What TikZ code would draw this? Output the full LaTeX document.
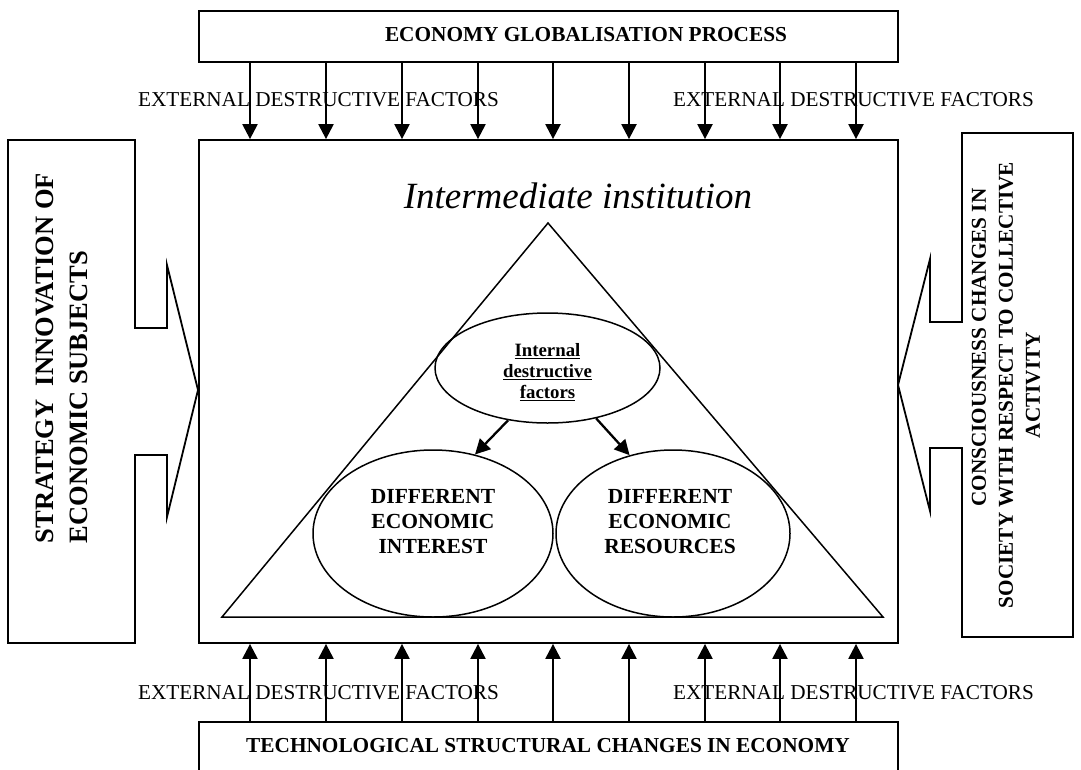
\documentclass[tikz,border=0pt]{standalone}
\usepackage{fontspec}
\setmainfont{Liberation Serif}
\usetikzlibrary{arrows.meta,shapes.geometric}
\begin{document}
\begin{tikzpicture}[x=1pt,y=-1pt,
  boxline/.style={draw,line width=1.8pt},
  rectbox/.style={draw,line width=1.8pt,rectangle,inner sep=0pt},
  extarrow/.style={line width=2.3pt,-{Triangle[width=15pt,length=15pt]}},
  inarrow/.style={line width=2.3pt,-{Triangle[width=15pt,length=15pt]}},
  oval/.style={draw,line width=1.5pt,ellipse,inner sep=0pt},
  exttext/.style={font=\fontsize{21.2}{25}\selectfont,anchor=base,inner sep=0pt},
  headtext/.style={font=\fontsize{21.3}{25}\selectfont\bfseries,anchor=base,inner sep=0pt},
  ovaltext/.style={font=\fontsize{21.5}{25}\selectfont\bfseries,align=center,inner sep=0pt},
]
\useasboundingbox (0,0) rectangle (1081,769);

% boxes
\node[rectbox,minimum width=699pt,minimum height=51pt] (topbox) at (548.5,36.5) {};
\node[rectbox,minimum width=699pt,minimum height=503pt] (mainbox) at (548.5,391.5) {};
\node[rectbox,minimum width=699pt,minimum height=60pt] (botbox) at (548.5,752) {};

% box texts
\node[headtext] (toptxt) at (586,41.7) {ECONOMY GLOBALISATION PROCESS};
\node[headtext] (bottxt) at (548,752) {TECHNOLOGICAL STRUCTURAL CHANGES IN ECONOMY};

% external factor labels
\node[exttext] (ext1) at (318.5,106) {EXTERNAL DESTRUCTIVE FACTORS};
\node[exttext] (ext2) at (853.5,106) {EXTERNAL DESTRUCTIVE FACTORS};
\node[exttext] (ext3) at (318.5,699) {EXTERNAL DESTRUCTIVE FACTORS};
\node[exttext] (ext4) at (853.5,699) {EXTERNAL DESTRUCTIVE FACTORS};

% arrows top and bottom
\foreach \x in {250,326,402,478,553,629,705,780,856}{
  \draw[extarrow] ([xshift=\x pt-548.5pt]topbox.south) -- ([xshift=\x pt-548.5pt]mainbox.north);
  \draw[extarrow] ([xshift=\x pt-548.5pt]botbox.north) -- ([xshift=\x pt-548.5pt]mainbox.south);
}

% left callout
\coordinate (ltip) at (198,390);
\draw[boxline,line join=miter] (135,328) -- (135,140) -- (8,140) -- (8,643) -- (135,643) -- (135,455)
  -- (167,455) -- (167,517) -- (ltip) -- (167,265) -- (167,328) -- cycle;
\node[font=\fontsize{26.5}{34}\selectfont\bfseries,rotate=90,align=left,inner sep=0pt] (lefttxt) at (62,358)
  {STRATEGY\ \ INNOVATION OF\\ ECONOMIC SUBJECTS};

% right callout
\coordinate (rtip) at (898,385);
\draw[boxline,line join=miter] (962,322) -- (962,133) -- (1073,133) -- (1073,637) -- (962,637) -- (962,448)
  -- (930,448) -- (930,511) -- (rtip) -- (930,259) -- (930,322) -- cycle;
\node[font=\fontsize{21.2}{27}\selectfont\bfseries,rotate=90,align=center,inner sep=0pt] (righttxt) at (1006,385)
  {\hspace*{75pt}CONSCIOUSNESS CHANGES IN\\ SOCIETY WITH RESPECT TO COLLECTIVE\\ ACTIVITY};

% title
\node[font=\fontsize{37}{40}\selectfont\itshape,anchor=base,inner sep=0pt] (title) at (578,208) {Intermediate institution};

% triangle
\coordinate (apex) at (548,223);
\coordinate (bl) at (222,617);
\coordinate (br) at (883,617);
\draw[line width=1.5pt] (apex) -- (br) -- (bl) -- cycle;

% ellipses
\node[oval,minimum width=225pt,minimum height=110pt] (itop) at (547.5,368) {};
\node[font=\fontsize{18.8}{21}\selectfont\bfseries,align=center,inner sep=0pt] (itoptxt) at (547.5,372)
  {\underline{Internal}\\ \underline{destructive}\\ \underline{factors}};
\node[oval,minimum width=240pt,minimum height=167pt] (ileft) at (433,533.5) {};
\node[oval,minimum width=234pt,minimum height=167pt] (iright) at (673,533.5) {};
\node[ovaltext] (ilefttxt) at (433,522) {DIFFERENT\\ ECONOMIC\\ INTEREST};
\node[ovaltext] (irighttxt) at (670,522) {DIFFERENT\\ ECONOMIC\\ RESOURCES};

\draw[inarrow] (itop.233) -- (ileft.62);
\draw[inarrow] (itop.314) -- (iright.119);
\end{tikzpicture}
\end{document}
